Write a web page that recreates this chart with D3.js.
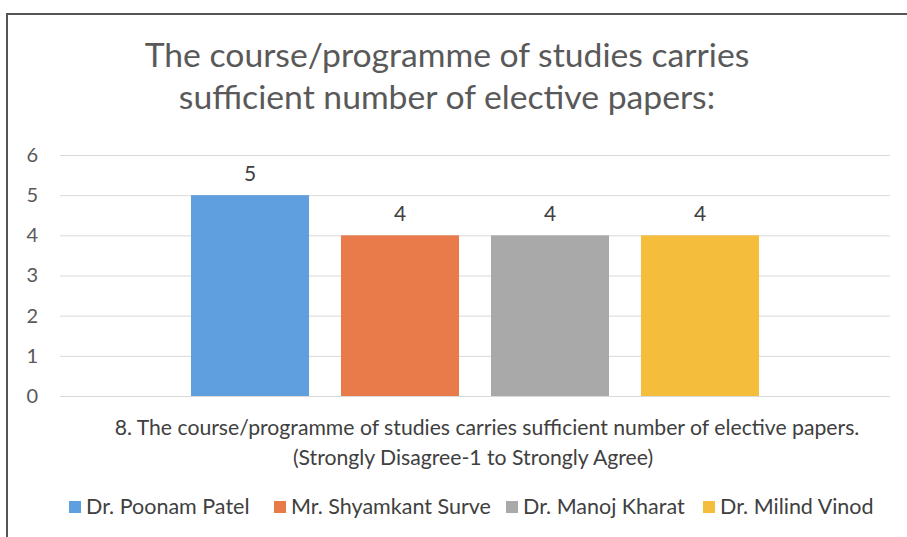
<!DOCTYPE html>
<html>
<head>
<meta charset="utf-8">
<script src="https://cdn.jsdelivr.net/npm/d3@7"></script>
<style>
  body { margin: 0; background: #fff; }
  svg { display: block; }
  text { font-family: Lato, "Open Sans", sans-serif; }
</style>
</head>
<body>
<div id="chart"></div>
<script>
// data
const category = "8. The course/programme of studies carries sufficient number of elective papers.";
const categorySub = "(Strongly Disagree-1 to Strongly Agree)";
const series = ["Dr. Poonam Patel", "Mr. Shyamkant Surve", "Dr. Manoj Kharat", "Dr. Milind Vinod"];
const values = [5, 4, 4, 4];
const colors = ["#5f9fe0", "#e97b4b", "#a9a9a9", "#f4bd3c"];
const yTicks = [0, 1, 2, 3, 4, 5, 6];
const titleLines = ["The course/programme of studies carries", "sufficient number of elective papers:"];

const width = 907;
const height = 537;
const plot = { left: 60, right: 890, top: 155, bottom: 396 };

const svg = d3.select("#chart").append("svg")
    .attr("width", width)
    .attr("height", height);

svg.append("rect")
    .attr("width", width)
    .attr("height", height)
    .attr("fill", "#fff");

// frame edge from the scan (top + left)
svg.append("path")
    .attr("d", `M7,${height} V14 H${width}`)
    .attr("fill", "none")
    .attr("stroke", "#555")
    .attr("stroke-width", 2);

// title
svg.append("g").selectAll("text")
    .data(titleLines)
    .join("text")
    .attr("x", 447)
    .attr("y", (d, i) => 67 + i * 42)
    .attr("text-anchor", "middle")
    .attr("fill", "#595959")
    .attr("font-size", 33.7)
    .text(d => d);

const y = d3.scaleLinear()
    .domain([0, 6])
    .range([plot.bottom, plot.top]);

const x0 = d3.scaleBand()
    .domain([category])
    .range([plot.left, plot.right])
    .paddingInner(0)
    .paddingOuter(0.1917);

const x1 = d3.scaleBand()
    .domain(series)
    .range([0, x0.bandwidth()])
    .paddingInner(0.213)
    .paddingOuter(0.1065);

// gridlines + y labels
const yAxis = d3.axisLeft(y)
    .tickValues(yTicks)
    .tickFormat(d3.format("d"))
    .tickSize(-(plot.right - plot.left))
    .tickPadding(22);

const gy = svg.append("g")
    .attr("transform", `translate(${plot.left},0)`)
    .call(yAxis);
gy.select(".domain").remove();
gy.selectAll(".tick line").attr("stroke", "#d9d9d9");
gy.selectAll(".tick text")
    .attr("fill", "#595959")
    .attr("font-size", 20)
    .attr("font-family", "Lato, sans-serif");

// bars
const g = svg.append("g")
    .attr("transform", `translate(${x0(category)},0)`);

g.selectAll("rect")
    .data(series)
    .join("rect")
    .attr("x", d => x1(d))
    .attr("y", (d, i) => y(values[i]))
    .attr("width", x1.bandwidth())
    .attr("height", (d, i) => y(0) - y(values[i]))
    .attr("fill", (d, i) => colors[i]);

g.selectAll("text.lbl")
    .data(series)
    .join("text")
    .attr("class", "lbl")
    .attr("x", d => x1(d) + x1.bandwidth() / 2)
    .attr("y", (d, i) => y(values[i]) - 14)
    .attr("text-anchor", "middle")
    .attr("fill", "#404040")
    .attr("font-size", 21)
    .text((d, i) => values[i]);

// category label under the axis
const cx = x0(category) + x0.bandwidth() / 2;
svg.append("text")
    .attr("x", cx + 12)
    .attr("y", 435)
    .attr("text-anchor", "middle")
    .attr("fill", "#404040")
    .attr("font-size", 21.2)
    .text(category);
svg.append("text")
    .attr("x", cx - 2)
    .attr("y", 465)
    .attr("text-anchor", "middle")
    .attr("fill", "#404040")
    .attr("font-size", 21.2)
    .text(categorySub);

// legend
const legendX = [69, 274, 506, 703];
const legend = svg.append("g").selectAll("g")
    .data(series)
    .join("g")
    .attr("transform", (d, i) => `translate(${legendX[i]},507)`);
legend.append("rect")
    .attr("x", 0)
    .attr("y", -6)
    .attr("width", 12)
    .attr("height", 12)
    .attr("fill", (d, i) => colors[i]);
legend.append("text")
    .attr("x", 17)
    .attr("y", 7)
    .attr("fill", "#404040")
    .attr("font-size", 21.5)
    .text(d => d);
</script>
</body>
</html>
